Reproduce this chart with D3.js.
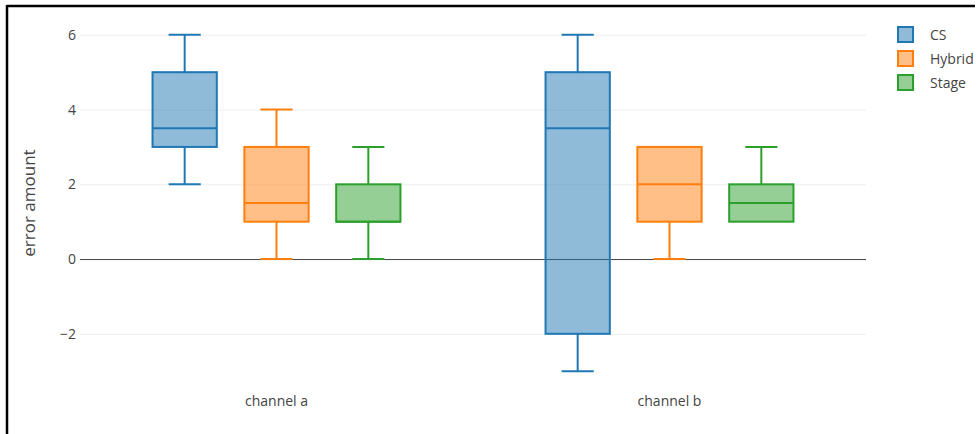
<!DOCTYPE html>
<html><head><meta charset="utf-8">
<script src="https://cdn.jsdelivr.net/npm/d3@7"></script>
<style>body{margin:0;background:#fff;}svg{display:block;font-family:"Open Sans",sans-serif;}</style>
</head><body><svg id="c" width="980" height="434"></svg>
<script>
const categories = ["channel a", "channel b"];
const seriesNames = ["CS", "Hybrid", "Stage"];
const seriesColors = ["#1f77b4", "#ff7f0e", "#2ca02c"];
// [min, q1, median, q3, max] per category
const csStats = [[2, 3, 3.5, 5, 6], [-3, -2, 3.5, 5, 6]];
const hybridStats = [[0, 1, 1.5, 3, 4], [0, 1, 2, 3, 3]];
const stageStats = [[0, 1, 1, 2, 3], [1, 1, 1.5, 2, 3]];
const yTicks = [-2, 0, 2, 4, 6];
const yDomain = [-3.45, 6.45];

const allStats = [csStats, hybridStats, stageStats];
const svg = d3.select("#c");
const L = 80, R = 866, T = 18, B = 388;

const y = d3.scaleLinear().domain(yDomain).range([B, T]);
const x0 = d3.scaleBand().domain(categories).range([L, R]);
const x1 = d3.scaleBand().domain(seriesNames).range([0, x0.bandwidth()]).paddingInner(0.3).paddingOuter(0.79);

// frame
svg.append("line").attr("x1", 7).attr("x2", 975).attr("y1", 6).attr("y2", 6).attr("stroke", "#000").attr("stroke-width", 2.5);
svg.append("line").attr("x1", 7).attr("x2", 7).attr("y1", 5).attr("y2", 434).attr("stroke", "#000").attr("stroke-width", 2.5);

// grid
const yAxis = d3.axisLeft(y).tickValues(yTicks).tickSize(-(R - L)).tickFormat(d => d < 0 ? "\u2212" + Math.abs(d) : d);
const gy = svg.append("g").attr("transform", `translate(${L},0)`).call(yAxis);
gy.select(".domain").remove();
gy.selectAll(".tick line").attr("stroke", d => d === 0 ? "#444" : "#eee").attr("stroke-width", 1);
gy.selectAll(".tick text").attr("x", -4).attr("fill", "#444").style("font-size", "14px").style("font-family", "'Open Sans',sans-serif");

// x axis labels
const xAxis = d3.axisBottom(x0).tickSize(0);
const gx = svg.append("g").attr("transform", `translate(0,${B + 5})`).call(xAxis);
gx.select(".domain").remove();
gx.selectAll(".tick text").attr("fill", "#444").style("font-size", "14px").style("font-family", "'Open Sans',sans-serif");

// y title
svg.append("text").attr("transform", `translate(35,${(T + B) / 2}) rotate(-90)`).attr("text-anchor", "middle")
  .attr("fill", "#444").style("font-size", "17px").text("error amount");

// boxes
seriesNames.forEach((s, si) => {
  const col = seriesColors[si];
  categories.forEach((c, ci) => {
    const [mn, q1, med, q3, mx] = allStats[si][ci];
    const bx = x0(c) + x1(s), bw = x1.bandwidth(), cx = bx + bw / 2;
    const g = svg.append("g");
    g.append("rect").attr("x", bx).attr("y", y(q3)).attr("width", bw).attr("height", y(q1) - y(q3))
      .attr("fill", col).attr("fill-opacity", 0.5).attr("stroke", col).attr("stroke-width", 2);
    g.append("line").attr("x1", bx).attr("x2", bx + bw).attr("y1", y(med)).attr("y2", y(med)).attr("stroke", col).attr("stroke-width", 2);
    if (mx > q3) {
      g.append("line").attr("x1", cx).attr("x2", cx).attr("y1", y(q3)).attr("y2", y(mx)).attr("stroke", col).attr("stroke-width", 2);
      g.append("line").attr("x1", cx - bw / 4).attr("x2", cx + bw / 4).attr("y1", y(mx)).attr("y2", y(mx)).attr("stroke", col).attr("stroke-width", 2);
    }
    if (mn < q1) {
      g.append("line").attr("x1", cx).attr("x2", cx).attr("y1", y(q1)).attr("y2", y(mn)).attr("stroke", col).attr("stroke-width", 2);
      g.append("line").attr("x1", cx - bw / 4).attr("x2", cx + bw / 4).attr("y1", y(mn)).attr("y2", y(mn)).attr("stroke", col).attr("stroke-width", 2);
    }
  });
});

// legend
const lg = svg.append("g").attr("transform", "translate(898,27)");
seriesNames.forEach((s, i) => {
  const row = lg.append("g").attr("transform", `translate(0,${i * 24})`);
  row.append("rect").attr("x", 0).attr("y", 0).attr("width", 15).attr("height", 15)
    .attr("fill", seriesColors[i]).attr("fill-opacity", 0.5).attr("stroke", seriesColors[i]).attr("stroke-width", 2);
  row.append("text").attr("x", 32).attr("y", 13).attr("fill", "#444").style("font-size", "14px").text(s);
});
</script></body></html>
